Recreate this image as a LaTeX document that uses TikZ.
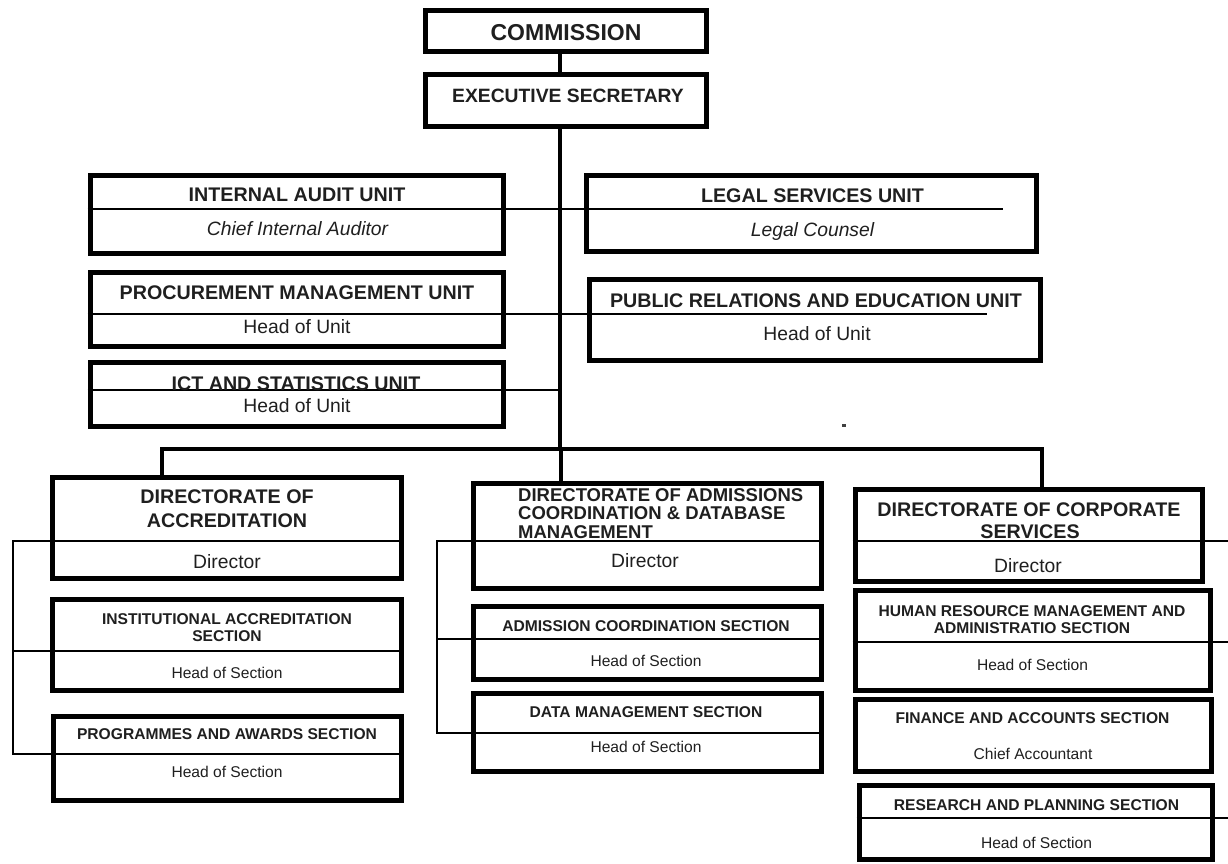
\documentclass[tikz,border=0pt]{standalone}
\usepackage{fontspec}
\setmainfont{Liberation Sans}
\tikzset{
  box/.style={draw=black, line width=5pt, inner sep=0pt},
  conn/.style={draw=black, line width=4.5pt, line join=miter},
  thinl/.style={draw=black, line width=1.2pt},
  txt/.style={anchor=base, inner sep=0pt, text=black!88},
  Tbig/.style={txt, font={\fontsize{23}{25}\selectfont\bfseries}},
  Tes/.style={txt, font={\fontsize{19.3}{22}\selectfont\bfseries}},
  Tu/.style={txt, font={\fontsize{19.7}{22}\selectfont\bfseries}},
  Su/.style={txt, font={\fontsize{19.3}{22}\selectfont}},
  Iu/.style={txt, font={\fontsize{19.3}{22}\selectfont\itshape}},
  Tad/.style={txt, anchor=base west, font={\fontsize{18.5}{20}\selectfont\bfseries}},
  Ts/.style={txt, font={\fontsize{15.6}{17}\selectfont\bfseries}},
  Ss/.style={txt, font={\fontsize{15.6}{17}\selectfont}}
}
\newcommand\orgbox[5]{\node[box, minimum width={#4-#2}, minimum height={#5-#3}] (#1) at ({(#2+#4)/2},{(#3+#5)/2}) {};}
\newcommand\orgtxt[5]{\node[#1] (#2) at (#3,#4) {#5};}
\begin{document}
\begin{tikzpicture}[x=1pt,y=-1pt]
\useasboundingbox (0,0) rectangle (1228,863);
% boxes
\orgbox{comm}{425}{10}{706}{51}
\orgbox{exec}{425}{74}{706}{126}
\orgbox{audit}{90}{175}{503}{253}
\orgbox{proc}{90}{272}{503}{346}
\orgbox{ict}{90}{362}{503}{426}
\orgbox{legal}{586}{175}{1036}{251}
\orgbox{pr}{589}{279}{1040}{360}
\orgbox{dacc}{52}{477}{401}{578}
\orgbox{inst}{52}{599}{401}{690}
\orgbox{prog}{53}{716}{401}{800}
\orgbox{dadm}{473}{483}{821}{588}
\orgbox{admc}{473}{606}{821}{679}
\orgbox{datm}{473}{693}{821}{771}
\orgbox{dcorp}{855}{489}{1202}{581}
\orgbox{hr}{855}{590}{1210}{690}
\orgbox{fin}{855}{699}{1211}{771}
\orgbox{res}{859}{785}{1212}{859}
% connector coordinates
\coordinate (sx) at (560,0);
\coordinate (barL) at (162,449);
\coordinate (barM) at (561,449);
\coordinate (barR) at (1042,449);
% thick connectors
\draw[conn] (comm.south -| sx) -- (exec.north -| sx);
\draw[conn] (exec.south -| sx) -- (sx |- barM);
\draw[conn] (dacc.north -| barL) -- (barL) -- (barR) -- (dcorp.north -| barR);
\draw[conn] (barM) -- (dadm.north -| barM);
% thin lines of the staff units
\draw[thinl] (audit.west |- 0,209) -- (1003,209);
\draw[thinl] (proc.west |- 0,314) -- (987,314);
\draw[thinl] (ict.west |- 0,390) -- (sx |- 0,390);
% accreditation bracket
\draw[thinl] (dacc.east |- 0,541) -- (13,541) -- (13,754) -- (prog.east |- 0,754);
\draw[thinl] (13,651) -- (inst.east |- 0,651);
% admissions bracket
\draw[thinl] (dadm.east |- 0,541) -- (437,541) -- (437,733) -- (datm.east |- 0,733);
\draw[thinl] (437,639) -- (admc.east |- 0,639);
% corporate lines
\draw[thinl] (dcorp.west |- 0,541) -- (1228,541);
\draw[thinl] (hr.west |- 0,642) -- (1228,642);
\draw[thinl] (res.west |- 0,818) -- (1228,818);
% stray dot
\node[fill=black!75, minimum width=3.5pt, minimum height=2.5pt, inner sep=0pt] (dot) at (844,425.5) {};
% texts
\orgtxt{Tbig}{tcomm}{566}{40}{COMMISSION}
\orgtxt{Tes}{texec}{568}{102}{EXECUTIVE SECRETARY}
\orgtxt{Tu}{taudit}{297}{201.5}{INTERNAL AUDIT UNIT}
\orgtxt{Iu}{saudit}{297.5}{235}{Chief Internal Auditor}
\orgtxt{Tu}{tproc}{297}{299}{PROCUREMENT MANAGEMENT UNIT}
\orgtxt{Su}{sproc}{297}{333}{Head of Unit}
\orgtxt{Tu}{tict}{296}{390}{ICT AND STATISTICS UNIT}
\orgtxt{Su}{sict}{297}{412}{Head of Unit}
\orgtxt{Tu}{tlegal}{812.5}{202}{LEGAL SERVICES UNIT}
\orgtxt{Iu}{slegal}{812.5}{236}{Legal Counsel}
\orgtxt{Tu}{tpr}{816}{307}{PUBLIC RELATIONS AND EDUCATION UNIT}
\orgtxt{Su}{spr}{817}{340}{Head of Unit}
\orgtxt{Tu}{tdacca}{227}{503}{DIRECTORATE OF}
\orgtxt{Tu}{tdaccb}{227}{527}{ACCREDITATION}
\orgtxt{Su}{sdacc}{227}{568}{Director}
\orgtxt{Ts}{tinsta}{227}{624}{INSTITUTIONAL ACCREDITATION}
\orgtxt{Ts}{tinstb}{227}{641}{SECTION}
\orgtxt{Ss}{sinst}{227}{678}{Head of Section}
\orgtxt{Ts}{tprog}{227}{739}{PROGRAMMES AND AWARDS SECTION}
\orgtxt{Ss}{sprog}{227}{777}{Head of Section}
\orgtxt{Tad}{tdadma}{518}{501}{DIRECTORATE OF ADMISSIONS}
\orgtxt{Tad}{tdadmb}{518}{519}{COORDINATION \& DATABASE}
\orgtxt{Tad}{tdadmc}{518}{538}{MANAGEMENT}
\orgtxt{Su}{sdadm}{645}{567}{Director}
\orgtxt{Ts}{tadmc}{646}{631}{ADMISSION COORDINATION SECTION}
\orgtxt{Ss}{sadmc}{646}{666}{Head of Section}
\orgtxt{Ts}{tdatm}{646}{717}{DATA MANAGEMENT SECTION}
\orgtxt{Ss}{sdatm}{646}{752}{Head of Section}
\orgtxt{Tu}{tdcorpa}{1029}{516}{DIRECTORATE OF CORPORATE}
\orgtxt{Tu}{tdcorpb}{1030}{538}{SERVICES}
\orgtxt{Su}{sdcorp}{1028}{572}{Director}
\orgtxt{Ts}{thra}{1032}{616}{HUMAN RESOURCE MANAGEMENT AND}
\orgtxt{Ts}{thrb}{1032}{633}{ADMINISTRATIO SECTION}
\orgtxt{Ss}{shr}{1032.5}{670}{Head of Section}
\orgtxt{Ts}{tfin}{1032.5}{723}{FINANCE AND ACCOUNTS SECTION}
\orgtxt{Ss}{sfin}{1033}{759}{Chief Accountant}
\orgtxt{Ts}{tres}{1036.5}{810}{RESEARCH AND PLANNING SECTION}
\orgtxt{Ss}{sres}{1036.5}{848}{Head of Section}
\end{tikzpicture}
\end{document}
